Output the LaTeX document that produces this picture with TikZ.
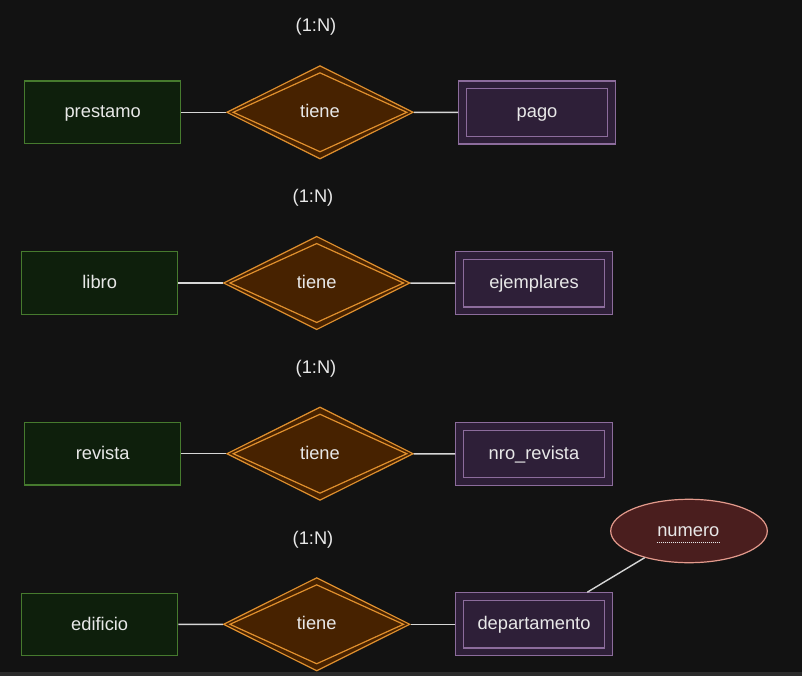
\documentclass[tikz,border=0pt]{standalone}
\usepackage{fontspec}
\setmainfont{Liberation Sans}
\usetikzlibrary{shapes.geometric,calc}
\definecolor{bgc}{HTML}{121212}
\definecolor{stripc}{HTML}{2B2B2B}
\definecolor{entfill}{HTML}{0E1F0C}
\definecolor{entdraw}{HTML}{467A2E}
\definecolor{relfill}{HTML}{472200}
\definecolor{reldraw}{HTML}{E0902E}
\definecolor{weakfill}{HTML}{2E1F38}
\definecolor{weakdraw}{HTML}{8C6C9C}
\definecolor{attfill}{HTML}{4A1E1E}
\definecolor{attdraw}{HTML}{E39A8C}
\definecolor{txtc}{HTML}{E8E8E8}
\definecolor{linec}{HTML}{D6D6D6}
\tikzset{
  every node/.style={text=txtc, font=\fontsize{18.3}{21}\selectfont, text height=14.5pt, text depth=3.5pt},
  entbox/.style={draw=entdraw, fill=entfill, line width=1.2pt, minimum width=156pt, minimum height=62.5pt, inner sep=0pt},
  relout/.style={diamond, draw=reldraw, fill=relfill, line width=1.2pt, minimum width=186.6pt, minimum height=93.4pt, inner sep=0pt},
  relin/.style={diamond, draw=reldraw, line width=1.2pt, minimum width=174pt, minimum height=79.4pt, inner sep=0pt},
  weakout/.style={draw=weakdraw, fill=weakfill, line width=1.2pt, minimum width=156.6pt, minimum height=63pt, inner sep=0pt},
  weakin/.style={draw=weakdraw, line width=1.2pt, minimum width=141.3pt, minimum height=47.3pt, inner sep=0pt},
  attr/.style={ellipse, draw=attdraw, fill=attfill, line width=1.2pt, minimum width=156.6pt, minimum height=63.4pt, inner sep=0pt},
  conn/.style={draw=linec, line width=1.4pt},
  card/.style={inner sep=0pt}
}
\begin{document}
\begin{tikzpicture}[x=1pt,y=-1pt]
\useasboundingbox (0,0) rectangle (802,676);
\fill[bgc] (0,0) rectangle (802,676);
\fill[stripc] (0,672) rectangle (802,676);

% Row 1
\node[card] (c1) at (316,26.5) {(1:N)};
\node[entbox] (e1) at (102.7,112.3) {};
\node[relout] (r1) at (320,112.3) {};
\node[relin] (r1in) at (320,112.3) {};
\node (r1t) at (320,112.3) {tiene};
\node[weakout] (w1) at (537,112.5) {};
\node[weakin] (w1in) at (537,112.5) {};
\node (w1t) at (537,112.5) {pago};
\node (e1t) at (102.7,112.3) {prestamo};
\draw[conn] (e1) -- (r1);
\draw[conn] (r1) -- (w1);

% Row 2
\node[card] (c2) at (313,197.5) {(1:N)};
\node[entbox] (e2) at (99.7,283) {};
\node[relout] (r2) at (316.7,283) {};
\node[relin] (r2in) at (316.7,283) {};
\node (r2t) at (316.7,283) {tiene};
\node[weakout] (w2) at (534,283.3) {};
\node[weakin] (w2in) at (534,283.3) {};
\node (w2t) at (534,283.3) {ejemplares};
\node (e2t) at (99.7,283) {libro};
\draw[conn] (e2) -- (r2);
\draw[conn] (r2) -- (w2);

% Row 3
\node[card] (c3) at (316,367.5) {(1:N)};
\node[entbox] (e3) at (102.7,453.7) {};
\node[relout] (r3) at (320,453.7) {};
\node[relin] (r3in) at (320,453.7) {};
\node (r3t) at (320,453.7) {tiene};
\node[weakout] (w3) at (534,454) {};
\node[weakin] (w3in) at (534,454) {};
\node (w3t) at (534,454) {nro\_revista};
\node (e3t) at (102.7,453.7) {revista};
\draw[conn] (e3) -- (r3);
\draw[conn] (r3) -- (w3);

% Row 4
\node[card] (c4) at (313,538.5) {(1:N)};
\node[entbox] (e4) at (99.7,624.5) {};
\node[relout] (r4) at (316.7,624.3) {};
\node[relin] (r4in) at (316.7,624.3) {};
\node (r4t) at (316.7,624.3) {tiene};
\node[weakout] (w4) at (534,624.3) {};
\node[weakin] (w4in) at (534,624.3) {};
\node (w4t) at (534,624.3) {departamento};
\node (e4t) at (99.7,624.5) {edificio};
\draw[conn] (e4) -- (r4);
\draw[conn] (r4) -- (w4);

% Attribute
\node[attr] (numero) at (689,531) {};
\node (numt) at (688.3,531) {numero};
\draw[draw=txtc, line width=0.9pt, dash pattern=on 1pt off 1pt] ($(numero.center)+(-32.3,11.3)$) coordinate (ul1) -- ($(numero.center)+(31,11.3)$) coordinate (ul2);
\draw[conn] (numero) -- (w4);
\end{tikzpicture}
\end{document}
